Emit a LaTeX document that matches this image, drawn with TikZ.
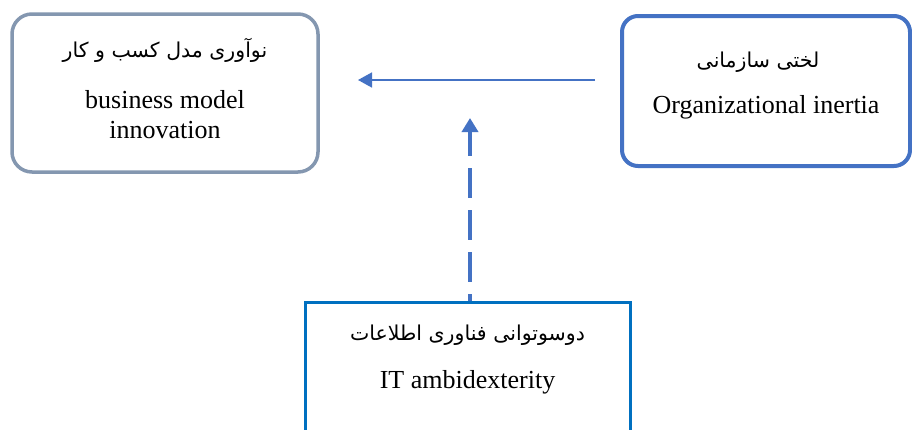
\documentclass[tikz,border=0pt]{standalone}
\usepackage{fontspec}
\setmainfont{Liberation Serif}
\newfontfamily\arabicfont[Script=Arabic]{DejaVu Sans}
\TeXXeTstate=1
\usetikzlibrary{arrows.meta}
\definecolor{grayblue}{HTML}{8497B0}
\definecolor{accblue}{HTML}{4472C4}
\definecolor{boxblue}{HTML}{0070C0}
\begin{document}
\begin{tikzpicture}[x=1pt,y=-1pt,
  boxA/.style={draw=grayblue,line width=3.5pt,rounded corners=20pt,inner sep=0pt},
  boxB/.style={draw=accblue,line width=4pt,rounded corners=16pt,inner sep=0pt},
  boxC/.style={draw=boxblue,line width=3pt,inner sep=0pt},
  en/.style={font=\fontsize{26}{29}\selectfont,inner sep=0pt,anchor=center},
  fa/.style={font=\arabicfont\fontsize{20.5}{24}\selectfont,inner sep=0pt,anchor=center},
  conn/.style={draw=accblue,line width=1.6pt,-{Triangle[length=14pt,width=15pt]}},
  dconn/.style={draw=accblue,line width=3.5pt,dash pattern=on 30pt off 12pt,dash phase=23pt,-{Triangle[length=14pt,width=16pt]}}
]
\useasboundingbox (0,0) rectangle (912,429);
\fill[white] (0,0) rectangle (912,429);
\begin{scope}
\clip (0,0) rectangle (912,429);
\node[boxA,minimum width=306pt,minimum height=158pt] (lbox) at (165,93) {};
\node[boxB,minimum width=288pt,minimum height=150pt] (rbox) at (766,91) {};
\node[boxC,minimum width=325pt,minimum height=170pt] (bbox) at (467.5,387) {};
\end{scope}
\node[fa] (lfa) at (165,50) {\beginR نوآوری مدل کسب و کار\endR};
\node[en] (len1) at (165,100) {business model};
\node[en] (len2) at (165,130) {innovation};
\node[fa] (rfa) at (758,62) {\beginR لختی سازمانی\endR};
\node[en] (ren) at (766,107) {Organizational inertia};
\node[fa] (bfa) at (467.5,335) {\beginR دوسوتوانی فناوری اطلاعات\endR};
\node[en] (ben) at (467.5,382) {IT ambidexterity};
\coordinate (hstart) at (595,80);
\coordinate (hend) at (358,80);
\coordinate (vend) at (470,118);
\draw[conn] (hstart) -- (hend);
\draw[dconn] (bbox.north -| vend) -- (vend);
\end{tikzpicture}
\end{document}
